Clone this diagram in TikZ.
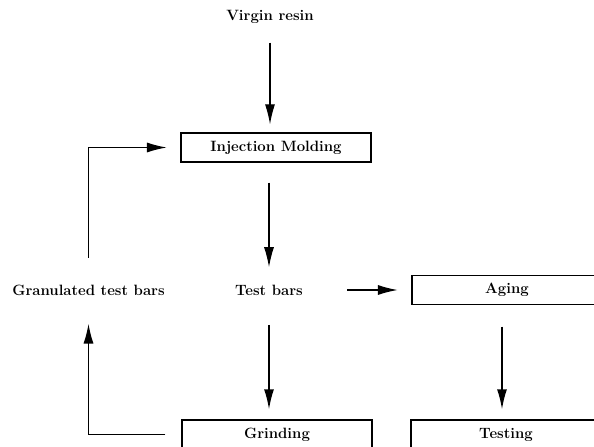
\documentclass[tikz,border=0pt]{standalone}
\usepackage{tikz}
\usetikzlibrary{arrows.meta}
\usetikzlibrary{positioning}

\tikzset{
    stagebox/.style={
        draw,
        line width=1.1pt,
        inner sep=0pt,
        minimum width=142.5pt,
        minimum height=21.75pt,
        font=\fontsize{11.2}{13}\selectfont\bfseries,
    },
    stagetext/.style={
        inner sep=0pt,
        font=\fontsize{11.2}{13}\selectfont\bfseries,
    },
    flow/.style={
        -{Latex[length=15pt,width=7.5pt]},
        line width=1.1pt,
    },
}

\begin{document}
\begin{tikzpicture}[x=0.75pt,y=-0.75pt]
    \path[use as bounding box] (0,0) rectangle (594,447);
    \clip (0,0) rectangle (594,447);

    \node (virgin) at (270,17) [stagetext] {Virgin resin};
    \node (inject) at (276,147.5) [stagebox] {Injection Molding};
    \node (bars) at (269,290) [stagetext] {Test bars};
    \node (granul) at (88.5,290) [stagetext] {Granulated test bars};
    \node (aging) at (507,290) [stagebox] {Aging};
    \node (grind) at (277,434.5) [stagebox] {Grinding};
    \node (testing) at (506,434.5) [stagebox] {Testing};

    \draw[flow, line width=0.8pt, shorten <=14pt, shorten >=6pt] (virgin) -- (virgin |- inject.north);
    \draw[flow, line width=0.8pt, shorten <=15pt, shorten >=13pt] (inject.south -| bars) -- (bars);
    \draw[flow, shorten <=22pt, shorten >=7.5pt] (bars) -- (bars |- grind.north);
    \draw[flow, shorten <=33pt, shorten >=10pt] (bars) -- (aging);
    \draw[flow, shorten <=16pt, shorten >=7.5pt] (aging.south -| 502,0) -- (testing.north -| 502,0);
    % recycling loop
    \draw[flow, shorten <=12pt, shorten >=21pt] (grind.west) -| (granul.south);
    \draw[flow, shorten <=20pt, shorten >=10pt] (granul.north) |- (inject.west);
\end{tikzpicture}
\end{document}
